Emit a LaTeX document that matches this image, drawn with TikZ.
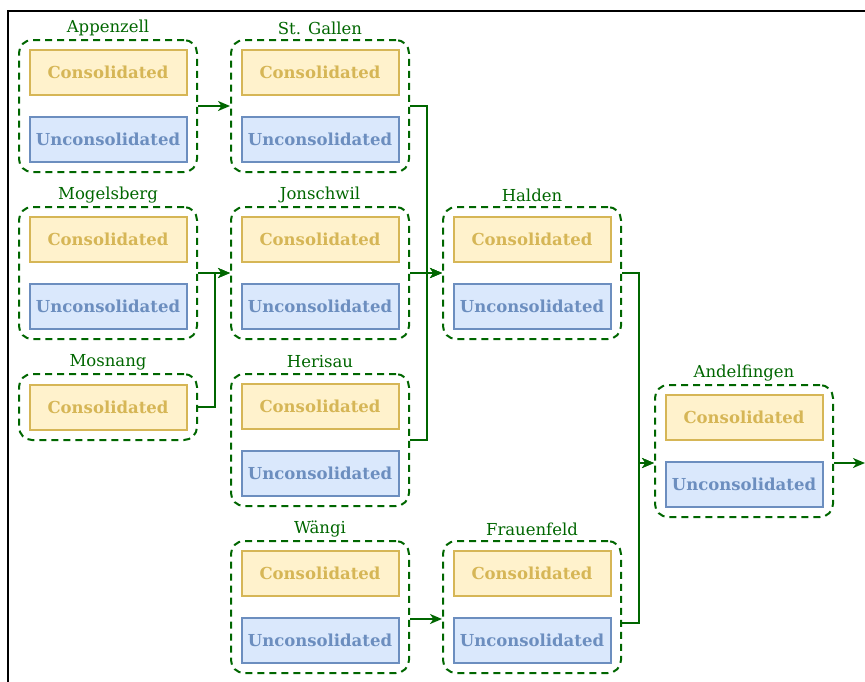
\documentclass[tikz,border=0pt]{standalone}
\usepackage{fontspec}
\setmainfont{DejaVu Serif}
\usetikzlibrary{arrows.meta,calc}
\definecolor{grn}{HTML}{006600}
\definecolor{yfill}{HTML}{FFF2CC}
\definecolor{ydraw}{HTML}{D6B656}
\definecolor{bfill}{HTML}{DAE8FC}
\definecolor{bdraw}{HTML}{6C8EBF}
\begin{document}
\begin{tikzpicture}[x=1pt,y=-1pt,
  grp/.style={draw=grn, line width=2pt, dash pattern=on 7pt off 5pt, rounded corners=13pt,
    minimum width=178pt, minimum height=132pt, inner sep=0pt},
  grpsmall/.style={grp, minimum height=66pt},
  boxbase/.style={line width=2pt, minimum width=157pt, minimum height=45pt, inner sep=0pt,
    font=\bfseries\fontsize{16.5}{18}\selectfont},
  cons/.style={boxbase, draw=ydraw, fill=yfill, text=ydraw},
  uncons/.style={boxbase, draw=bdraw, fill=bfill, text=bdraw},
  glabel/.style={text=grn, inner sep=0pt, font=\fontsize{16.5}{18}\selectfont},
  conn/.style={draw=grn, line width=2pt, -{Stealth[length=12pt,width=10pt,inset=3.5pt]}},
]
\useasboundingbox (0,0) rectangle (865,681);
\draw[line width=2pt] (8,690) -- (8,11) -- (870,11);

% groups: center y = top + 66
\node[grp] (app) at (108,106) {};
\node[cons] (appC) at (108,72.5) {Consolidated};
\node[uncons] (appU) at (108,139.5) {Unconsolidated};
\node[glabel] (appL) at (108,28) {Appenzell};

\node[grp] (mog) at (108,273) {};
\node[cons] (mogC) at (108,239.5) {Consolidated};
\node[uncons] (mogU) at (108,306.5) {Unconsolidated};
\node[glabel] (mogL) at (108,195) {Mogelsberg};

\node[grpsmall] (mos) at (108,407) {};
\node[cons] (mosC) at (108,407) {Consolidated};
\node[glabel] (mosL) at (108,362) {Mosnang};

\node[grp] (stg) at (320,106) {};
\node[cons] (stgC) at (320,72.5) {Consolidated};
\node[uncons] (stgU) at (320,139.5) {Unconsolidated};
\node[glabel] (stgL) at (320,28) {St. Gallen};

\node[grp] (jon) at (320,273) {};
\node[cons] (jonC) at (320,239.5) {Consolidated};
\node[uncons] (jonU) at (320,306.5) {Unconsolidated};
\node[glabel] (jonL) at (320,195) {Jonschwil};

\node[grp] (her) at (320,440) {};
\node[cons] (herC) at (320,406.5) {Consolidated};
\node[uncons] (herU) at (320,473.5) {Unconsolidated};
\node[glabel] (herL) at (320,362) {Herisau};

\node[grp] (wan) at (320,607) {};
\node[cons] (wanC) at (320,573.5) {Consolidated};
\node[uncons] (wanU) at (320,640.5) {Unconsolidated};
\node[glabel] (wanL) at (320,529) {Wängi};

\node[grp] (hal) at (532,273) {};
\node[cons] (halC) at (532,239.5) {Consolidated};
\node[uncons] (halU) at (532,306.5) {Unconsolidated};
\node[glabel] (halL) at (532,195) {Halden};

\node[grp] (fra) at (532,607) {};
\node[cons] (fraC) at (532,573.5) {Consolidated};
\node[uncons] (fraU) at (532,640.5) {Unconsolidated};
\node[glabel] (fraL) at (532,529) {Frauenfeld};

\node[grp] (and) at (744,451) {};
\node[cons] (andC) at (744,417.5) {Consolidated};
\node[uncons] (andU) at (744,484.5) {Unconsolidated};
\node[glabel] (andL) at (744,373) {Andelfingen};

% connector anchors
\coordinate (wanOut) at ($(wan.east)+(0,12)$);
\coordinate (fraIn) at ($(fra.west)+(0,12)$);
\coordinate (fraOut) at ($(fra.east)+(0,16)$);
\coordinate (andIn) at ($(and.west)+(0,12)$);
\coordinate (andOut) at ($(and.east)+(0,12)$);
\coordinate (outEnd) at (865,463);

% connectors
\draw[conn] (app.east) -- (stg.west);
\draw[conn] (mog.east) -- (jon.west);
\draw[conn] (mos.east) -- ++(17,0) |- (jon.west);
\draw[conn] (stg.east) -- ++(17,0) |- (hal.west);
\draw[conn] (jon.east) -- (hal.west);
\draw[conn] (her.east) -- ++(17,0) |- (hal.west);
\draw[conn] (wanOut) -- (fraIn);
\draw[conn] (hal.east) -- ++(17,0) |- (andIn);
\draw[conn] (fraOut) -- ++(17,0) |- (andIn);
\draw[conn] (andOut) -- (outEnd);
\end{tikzpicture}
\end{document}
